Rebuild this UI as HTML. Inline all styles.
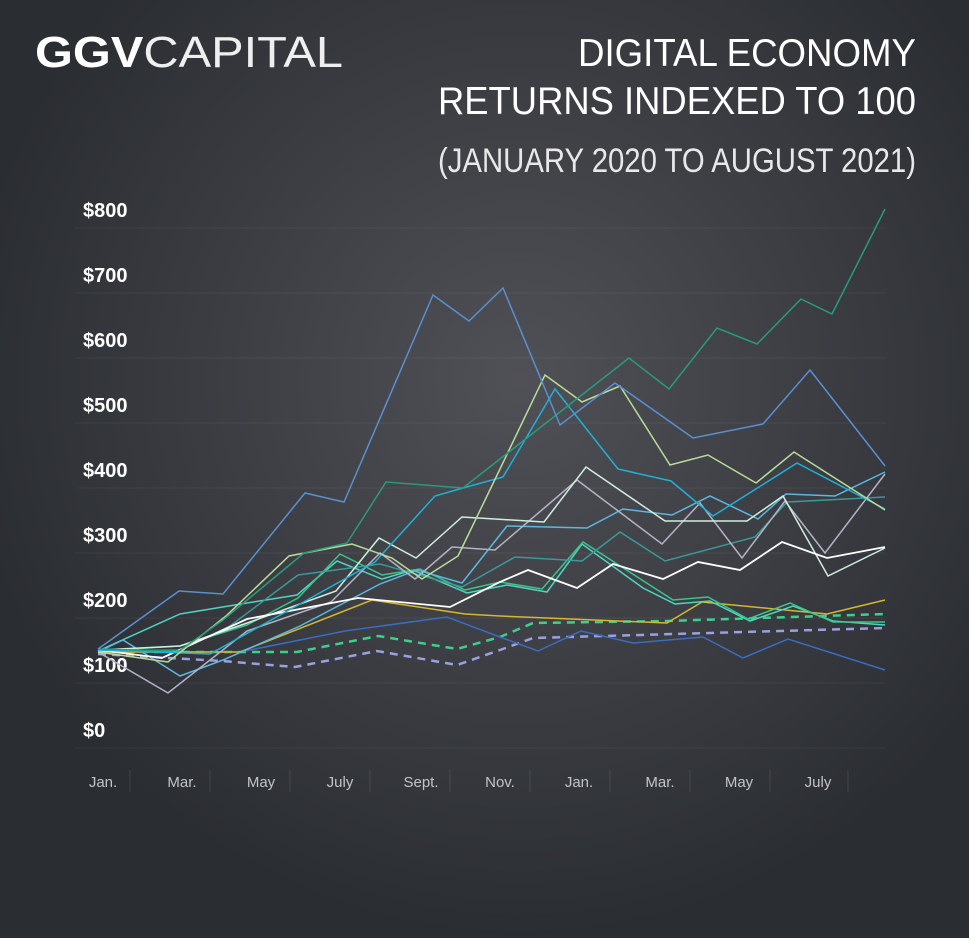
<!DOCTYPE html>
<html><head><meta charset="utf-8"><style>
html,body{margin:0;padding:0;width:969px;height:938px;overflow:hidden;background:#2c2f34}
svg{display:block}
</style></head><body>
<svg width="969" height="938" viewBox="0 0 969 938" xmlns="http://www.w3.org/2000/svg">
<defs>
<radialGradient id="bg" cx="520" cy="380" r="560" gradientUnits="userSpaceOnUse">
<stop offset="0" stop-color="#505156"/>
<stop offset="0.55" stop-color="#3b3d42"/>
<stop offset="1" stop-color="#2a2d32"/>
</radialGradient>
</defs>
<rect width="969" height="938" fill="url(#bg)"/>
<g font-family="Liberation Sans, sans-serif" fill="#fff">
<text x="35" y="67" font-size="44" textLength="308" lengthAdjust="spacingAndGlyphs"><tspan font-weight="bold">GGV</tspan><tspan font-weight="normal" fill-opacity="0.92">CAPITAL</tspan></text>
</g>
<g font-family="Liberation Sans Narrow, Liberation Sans, sans-serif" fill="#fff" text-anchor="end">
<text x="916" y="66" font-size="39" textLength="338" lengthAdjust="spacingAndGlyphs">DIGITAL ECONOMY</text>
<text x="916" y="114" font-size="39" textLength="478" lengthAdjust="spacingAndGlyphs">RETURNS INDEXED TO 100</text>
<text x="916" y="172" font-size="34" textLength="478" lengthAdjust="spacingAndGlyphs" fill="#e8e8e8">(JANUARY 2020 TO AUGUST 2021)</text>
</g>
<g stroke="#ffffff" stroke-opacity="0.06" stroke-width="1">
<line x1="75" x2="885" y1="228" y2="228"/><line x1="75" x2="885" y1="293" y2="293"/>
<line x1="75" x2="885" y1="358" y2="358"/><line x1="75" x2="885" y1="423" y2="423"/>
<line x1="75" x2="885" y1="488" y2="488"/><line x1="75" x2="885" y1="553" y2="553"/>
<line x1="75" x2="885" y1="618" y2="618"/><line x1="75" x2="885" y1="683" y2="683"/>
<line x1="75" x2="885" y1="748" y2="748"/>
</g>
<g stroke="#ffffff" stroke-opacity="0.1" stroke-width="1">
<line x1="130" x2="130" y1="770" y2="792"/><line x1="210" x2="210" y1="770" y2="792"/>
<line x1="290" x2="290" y1="770" y2="792"/><line x1="370" x2="370" y1="770" y2="792"/>
<line x1="450" x2="450" y1="770" y2="792"/><line x1="530" x2="530" y1="770" y2="792"/>
<line x1="610" x2="610" y1="770" y2="792"/><line x1="690" x2="690" y1="770" y2="792"/>
<line x1="770" x2="770" y1="770" y2="792"/><line x1="848" x2="848" y1="770" y2="792"/>
</g>
<g font-family="Liberation Sans, sans-serif" font-weight="bold" font-size="20" fill="#fff">
<text x="83" y="217">$800</text><text x="83" y="282">$700</text><text x="83" y="347">$600</text>
<text x="83" y="412">$500</text><text x="83" y="477">$400</text><text x="83" y="542">$300</text>
<text x="83" y="607">$200</text><text x="83" y="672">$100</text><text x="83" y="737">$0</text>
</g>
<g font-family="Liberation Sans, sans-serif" font-size="15" fill="#c4c4c8" text-anchor="middle">
<text x="103" y="787">Jan.</text><text x="182" y="787">Mar.</text><text x="261" y="787">May</text>
<text x="340" y="787">July</text><text x="421" y="787">Sept.</text><text x="500" y="787">Nov.</text>
<text x="579" y="787">Jan.</text><text x="660" y="787">Mar.</text><text x="739" y="787">May</text>
<text x="818" y="787">July</text>
</g>
<g fill="none" stroke-width="1.5" stroke-linejoin="miter">
<polyline stroke="#9aa0e0" stroke-width="2.5" stroke-dasharray="8,6" points="98,654 222,661 295,667 377,651 457,665 500,650 533,638 885,628"/>
<polyline stroke="#3ed08a" stroke-width="2.5" stroke-dasharray="8,6" points="98,652 297,652 378,636 457,649 500,637 533,623 667,621 885,614"/>
<polyline stroke="#3a6cc0" points="98,652 240,652 345,631 447,617 500,637 538,651 581,631 633,643 703,637 743,658 788,639 885,670"/>
<polyline stroke="#d4b830" points="98,652 240,652 372,600 465,614 500,616 667,623 702,602 827,614 885,600"/>
<polyline stroke="#4fd4c0" points="98,651 180,614 247,603 297,595 337,561 382,579 413,570 467,593 507,585 547,592 582,544 643,588 675,604 710,601 750,621 793,606 833,621 885,625"/>
<polyline stroke="#3cc48a" points="98,651 180,646 247,625 298,598 340,554 382,575 420,569 465,590 500,582 542,589 583,542 673,600 708,597 748,619 790,603 833,622 885,622"/>
<polyline stroke="#3a9a98" points="98,651 180,650 230,626 298,575 380,564 462,587 515,557 582,561 620,532 665,561 755,537 787,502 885,497"/>
<polyline stroke="#5cb8e0" points="98,652 123,640 180,676 223,660 300,626 380,584 417,570 462,583 507,526 587,528 623,509 672,515 710,496 758,519 786,494 835,496 885,472"/>
<polyline stroke="#b3b3c8" points="98,652 168,693 247,631 331,602 380,553 415,579 452,547 495,550 577,480 662,544 700,503 742,558 785,501 825,553 885,474"/>
<polyline stroke="#d0eee0" points="98,650 180,646 250,622 336,591 379,538 416,558 462,517 544,522 586,467 665,521 747,521 783,496 828,576 885,548"/>
<polyline stroke="#ffffff" stroke-width="1.8" points="98,650 162,658 247,619 358,598 450,607 500,582 528,570 577,588 613,564 663,579 698,562 740,570 782,542 827,558 885,547"/>
<polyline stroke="#1fb0d8" points="98,650 210,654 300,604 375,562 435,496 463,488 503,477 555,389 618,469 671,481 713,516 797,463 885,509"/>
<polyline stroke="#b9dc9a" points="98,652 168,662 226,616 289,556 352,544 392,558 422,579 458,556 500,469 545,375 582,402 620,386 670,465 708,455 756,483 794,452 885,510"/>
<polyline stroke="#2a9a7d" points="98,649 179,651 223,620 304,553 347,543 386,482 463,488 500,459 629,358 669,389 717,328 757,344 801,299 832,314 885,209"/>
<polyline stroke="#5b8fd0" points="98,649 179,591 223,594 305,493 344,502 433,295 469,321 503,288 560,425 615,383 693,438 763,424 810,370 885,466"/>
</g>
</svg>
</body></html>
